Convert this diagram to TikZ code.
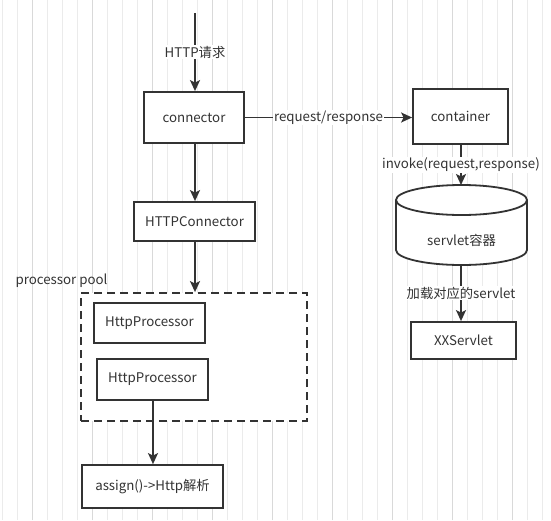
\documentclass[tikz,border=0pt]{standalone}
\usepackage{fontspec}
\setmainfont{Noto Sans CJK SC}
\usepackage{tikz}
\usetikzlibrary{positioning}
\usetikzlibrary{arrows.meta}
\usepackage{xcolor}

\definecolor{inkgray}{HTML}{333333}
\definecolor{gridminor}{HTML}{EBEBEB}
\definecolor{gridmajor}{HTML}{D9D9D9}

\tikzset{
  box/.style={draw=inkgray, line width=1.8pt, fill=white, inner sep=0pt,
    text=inkgray, font=\fontsize{13.3}{15}\selectfont},
  flow/.style={draw=inkgray, line width=1.8pt,
    -{Stealth[length=11pt, width=10pt, inset=2.5pt]}},
  flowlabel/.style={fill=white, inner sep=1pt, text=inkgray,
    font=\fontsize{13.3}{15}\selectfont}
}

\begin{document}
\begin{tikzpicture}[x=1pt, y=-1pt]

\useasboundingbox (0,0) rectangle (551,520);
\fill[white] (0,0) rectangle (551,520);

%grid
\begin{scope}[xshift=2pt, yshift=-6pt]{
\draw[gridminor, line width=0.6pt, step=15] (-2,-6) grid (549,514);
} \end{scope}
\begin{scope}[xshift=32pt, yshift=-36pt]{
\draw[gridmajor, line width=0.6pt, step=60] (-32,-36) grid (519,484);
} \end{scope}

% nodes
{
\coordinate (start) at (195,13);

\node[box, minimum width=100, minimum height=51] (conn) at (194,117.5) {connector};
\node[box, minimum width=121, minimum height=39] (hconn) at (194.5,221.5) {HTTPConnector};

\node[box, minimum width=95, minimum height=55] (cont) at (460.5,116.5) {container};

\node[box, dashed, dash pattern=on 8pt off 5pt, minimum width=226, minimum height=128] (pool) at (194,357) {};
\node[right, text=inkgray, font=\fontsize{13.3}{15}\selectfont] (poollabel) at (12,281) {processor pool};

\node[box, minimum width=111, minimum height=40] (proc1) at (149.5,323) {HttpProcessor};
\node[box, minimum width=111, minimum height=41] (proc2) at (152.5,379.5) {HttpProcessor};

\node[box, minimum width=141, minimum height=43] (assign) at (152.5,486.5) {assign()->Http解析};

\node[box, minimum width=105, minimum height=37] (xxs) at (463.5,340.5) {XXServlet};
}

%servlet cylinder
{
\fill[white] (396,200) -- (396,250) arc[start angle=180, end angle=0, x radius=65.5, y radius=15] -- (527,200) -- cycle;
\draw[inkgray, line width=1.8pt] (396,200) -- (396,250) arc[start angle=180, end angle=0, x radius=65.5, y radius=15] -- (527,200);
\draw[inkgray, line width=1.8pt, fill=white] (461.5,200) ellipse [x radius=65.5, y radius=15];
\node[text=inkgray, font=\fontsize{13.3}{15}\selectfont] (servlet) at (461.5,240) {servlet容器};
\coordinate (servtop) at (461,185);
\coordinate (servbot) at (461,265);
}

%arrows
{
\draw[flow] (start) -- node[flowlabel] {HTTP请求} (conn.north -| start);
\draw[flow] (conn.south -| start) -- (hconn.north -| start);
\draw[flow] (hconn.south -| start) -- (pool.north -| start);

\draw[flow] (conn.east) -- node[flowlabel] {request/response} (conn.east -| cont.west);
\draw[flow] (cont.south -| servtop) -- node[flowlabel] {invoke(request,response)} (servtop);
\draw[flow] (servbot) -- node[flowlabel] {加载对应的servlet} (xxs.north -| servbot);

\draw[flow] (proc2.south -| 153,0) -- (assign.north -| 153,0);
}

\end{tikzpicture}
\end{document}
